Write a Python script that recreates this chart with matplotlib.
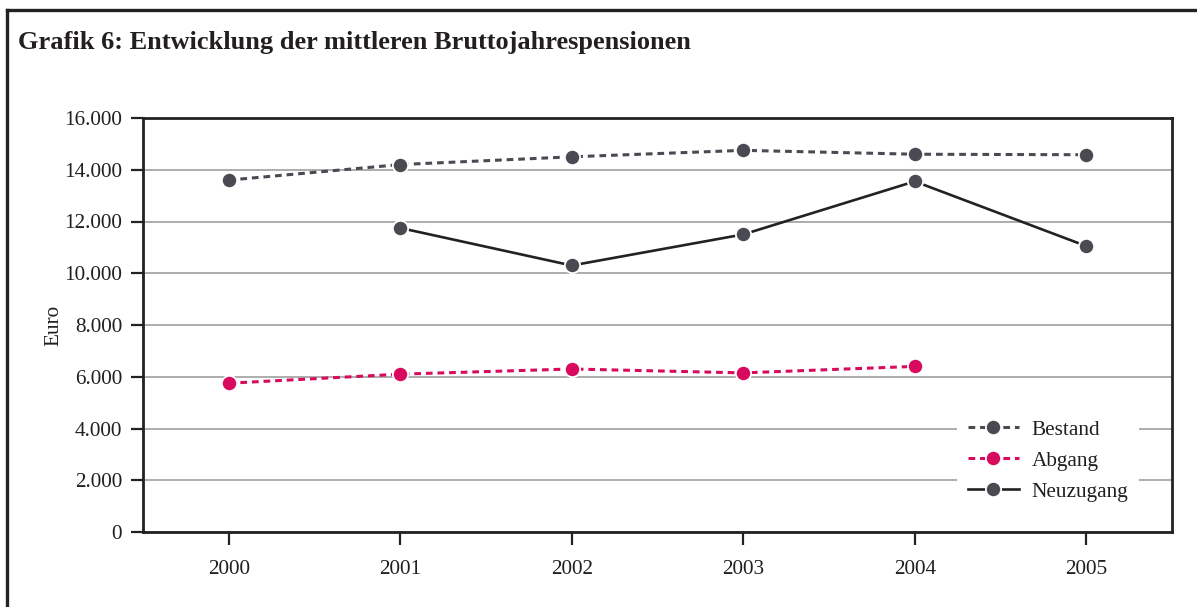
import matplotlib
matplotlib.use("Agg")
import matplotlib.pyplot as plt
from matplotlib.lines import Line2D
import numpy as np

years = ["2000", "2001", "2002", "2003", "2004", "2005"]
bestand = [13600, 14200, 14500, 14750, 14600, 14580]
abgang = [5750, 6100, 6300, 6150, 6400, None]
neuzugang = [None, 11750, 10300, 11500, 13550, 11050]
yticks = [0, 2000, 4000, 6000, 8000, 10000, 12000, 14000, 16000]
ytick_labels = ["0", "2.000", "4.000", "6.000", "8.000", "10.000", "12.000", "14.000", "16.000"]
title = "Grafik 6: Entwicklung der mittleren Bruttojahrespensionen"

plt.rcParams['font.family'] = ['Liberation Serif', 'DejaVu Serif']

W, H = 1197, 607
fig = plt.figure(figsize=(W / 100, H / 100), dpi=100)
fig.patch.set_facecolor("white")

# outer frame (top + left)
fig.add_artist(Line2D([7 / W, 7 / W], [0, 1 - 10 / H], transform=fig.transFigure, color="#222222", lw=2.4))
fig.add_artist(Line2D([7 / W, 1.0], [1 - 10 / H, 1 - 10 / H], transform=fig.transFigure, color="#222222", lw=2.4))

fig.text(18 / W, 1 - 42 / H, title, fontsize=19, fontweight="bold", color="#231f20", va="center", ha="left")

ax = fig.add_axes([143 / W, 1 - 532 / H, (1172 - 143) / W, (532 - 118) / H])
x = np.arange(len(years))

def arr(v):
    return np.array([np.nan if a is None else a for a in v], dtype=float)

mk = dict(marker="o", markersize=11, markeredgecolor="white", markeredgewidth=1.3)
ax.plot(x, arr(bestand), color="#4a4a52", lw=2.2, dashes=(2.2, 1.6), markerfacecolor="#4a4a52", label="Bestand", zorder=3, **mk)
ax.plot(x, arr(abgang), color="#d80a5d", lw=2.2, dashes=(2.2, 1.6), markerfacecolor="#d80a5d", label="Abgang", zorder=3, **mk)
ax.plot(x, arr(neuzugang), color="#222222", lw=1.9, markerfacecolor="#4a4a52", label="Neuzugang", zorder=3, **mk)

ax.set_xlim(-0.5, len(years) - 0.5)
ax.set_ylim(0, 16000)
ax.set_yticks(yticks)
ax.set_yticklabels(ytick_labels)
ax.set_xticks(x)
ax.set_xticklabels(years)
ax.yaxis.grid(True, color="#a0a0a0", lw=1.2)
ax.set_axisbelow(True)
for s in ax.spines.values():
    s.set_color("#222222")
    s.set_linewidth(2.0)
ax.tick_params(axis="both", direction="out", length=9, width=1.6, color="#222222", labelsize=15.3, labelcolor="#231f20", pad=6)
ax.tick_params(axis="x", pad=11)
ax.set_ylabel("Euro", fontsize=15.3, color="#231f20")
ax.yaxis.set_label_coords(-0.0775, 0.5)

leg = ax.legend(loc="lower right", bbox_to_anchor=(0.978, 0.022), frameon=True, fontsize=15.3,
                handlelength=2.4, handletextpad=0.6, labelspacing=0.52, borderpad=0.5)
leg.get_frame().set_facecolor("white")
leg.get_frame().set_edgecolor("none")
leg.get_frame().set_alpha(1.0)
for t in leg.get_texts():
    t.set_color("#231f20")

fig.savefig("out.png", dpi=100, facecolor="white")
